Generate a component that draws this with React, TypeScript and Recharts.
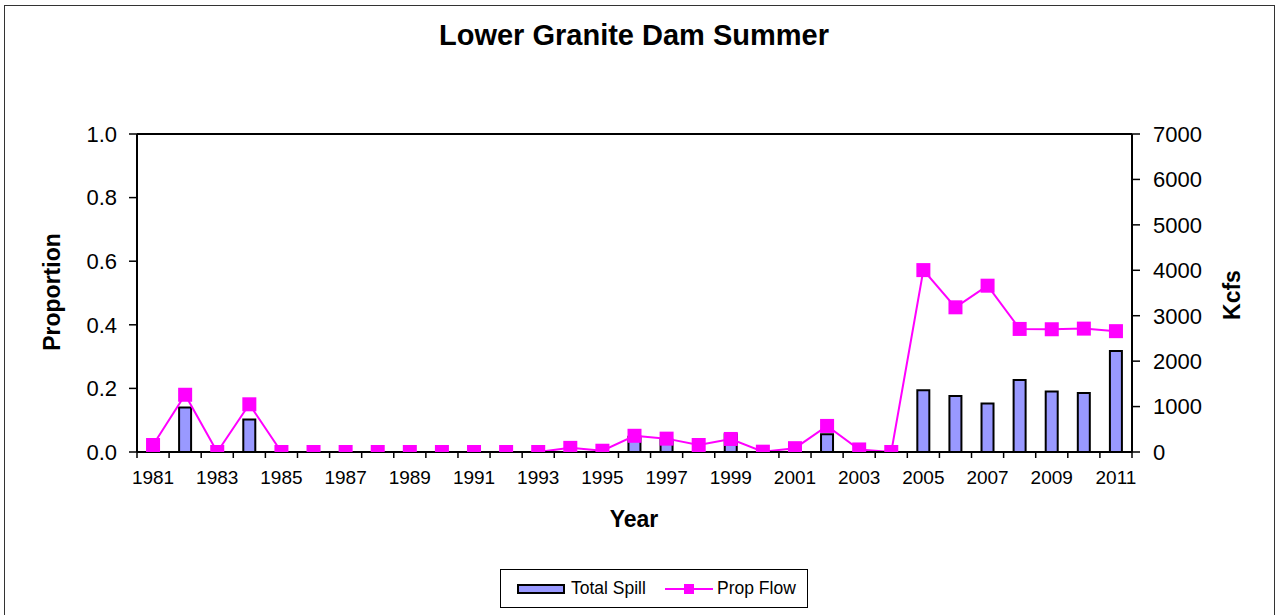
import React from 'react';
import { ComposedChart, Bar, Line, XAxis, YAxis, ReferenceLine, Legend } from 'recharts';

const years = [
  1981, 1982, 1983, 1984, 1985, 1986, 1987, 1988, 1989, 1990,
  1991, 1992, 1993, 1994, 1995, 1996, 1997, 1998, 1999, 2000,
  2001, 2002, 2003, 2004, 2005, 2006, 2007, 2008, 2009, 2010, 2011,
];

// Total Spill (Kcfs, right axis)
const totalSpill = [
  0, 980, 0, 715, 0, 0, 0, 0, 0, 0,
  0, 0, 0, 0, 0, 335, 270, 0, 390, 0,
  0, 390, 0, 0, 1360, 1230, 1065, 1585, 1330, 1300, 2225,
];

// Prop Flow (Proportion, left axis)
const propFlow = [
  0.022, 0.18, 0.0, 0.15, 0.0, 0.0, 0.0, 0.0, 0.0, 0.0,
  0.0, 0.0, 0.0, 0.013, 0.004, 0.051, 0.042, 0.022, 0.041, 0.001,
  0.012, 0.082, 0.008, 0.0, 0.572, 0.455, 0.523, 0.387, 0.386, 0.388, 0.38,
];

const leftTicks = [0, 0.2, 0.4, 0.6, 0.8, 1.0];
const rightTicks = [0, 1000, 2000, 3000, 4000, 5000, 6000, 7000];

const seriesNames = { spill: 'Total Spill', prop: 'Prop Flow' };

const data = years.map((y, i) => ({ year: y, spill: totalSpill[i], prop: propFlow[i] }));

const FONT = '"Liberation Sans", Arial, Helvetica, sans-serif';
const W = 1281;
const H = 615;
const MARGIN = { top: 134, right: 89, bottom: 133, left: 77 };
const YAXIS_W = 60;
const XAXIS_H = 30;
const PLOT_W = W - MARGIN.left - MARGIN.right - 2 * YAXIS_W;

const BAR_FILL = '#9999FF';
const LINE_COLOR = '#FF00FF';

const XTick = (props: any) => {
  const { x, y, payload, index } = props;
  const band = PLOT_W / years.length;
  const isLast = index === years.length - 1;
  return (
    <g>
      <line x1={x - band / 2} x2={x - band / 2} y1={y} y2={y + 6} stroke="#000" strokeWidth={1.5} />
      {isLast && <line x1={x + band / 2} x2={x + band / 2} y1={y} y2={y + 6} stroke="#000" strokeWidth={1.5} />}
      {index % 2 === 0 && (
        <text x={x} y={y + 32} textAnchor="middle" fontSize={19} fontFamily={FONT} fill="#000">
          {payload.value}
        </text>
      )}
    </g>
  );
};

const SquareDot = (props: any) => {
  const { cx, cy, index } = props;
  if (cx == null || cy == null) return <g key={`d${index}`} />;
  return <rect key={`d${index}`} x={cx - 7} y={cy - 7} width={14} height={14} fill={LINE_COLOR} />;
};

const LegendContent = (props: any) => {
  const payload = props.payload || [];
  const spillItem = payload.find((p: any) => p.dataKey === 'spill');
  const propItem = payload.find((p: any) => p.dataKey === 'prop');
  return (
    <svg width={308} height={39} style={{ display: 'block' }}>
      <rect x={0.5} y={0.5} width={307} height={38} fill="#fff" stroke="#000" strokeWidth={1} />
      <rect x={18} y={16} width={46} height={8} fill={BAR_FILL} stroke="#000" strokeWidth={2} />
      <text x={71} y={25} fontSize={17.5} fontFamily={FONT} fill="#000">
        {spillItem ? spillItem.value : seriesNames.spill}
      </text>
      <line x1={165} x2={213} y1={20} y2={20} stroke={LINE_COLOR} strokeWidth={2} />
      <rect x={184} y={15} width={10} height={10} fill={LINE_COLOR} />
      <text x={217} y={25} fontSize={17.5} fontFamily={FONT} fill="#000">
        {propItem ? propItem.value : seriesNames.prop}
      </text>
    </svg>
  );
};

export default function App() {
  return (
    <div style={{ position: 'fixed', left: 0, top: 0, width: W, height: H, background: '#fff', overflow: 'hidden' }}>
      <div
        style={{
          position: 'absolute',
          left: 4,
          top: 5,
          width: 1271,
          height: 640,
          border: '1px solid #333',
          boxSizing: 'border-box',
        }}
      />
      <div style={{ position: 'absolute', left: 0, top: 0 }}>
        <ComposedChart width={W} height={H} data={data} margin={MARGIN}>
          <XAxis
            dataKey="year"
            height={XAXIS_H}
            interval={0}
            tickSize={0}
            tickMargin={0}
            tickLine={false}
            axisLine={{ stroke: '#000', strokeWidth: 2 }}
            tick={<XTick />}
          />
          <YAxis
            yAxisId="left"
            orientation="left"
            width={YAXIS_W}
            domain={[0, 1]}
            ticks={leftTicks}
            interval={0}
            allowDataOverflow
            tickFormatter={(v: number) => v.toFixed(1)}
            tickSize={8}
            tickMargin={12}
            tickLine={{ stroke: '#000', strokeWidth: 1.5 }}
            axisLine={{ stroke: '#000', strokeWidth: 2 }}
            tick={{ fill: '#000', fontSize: 22, fontFamily: FONT }}
          />
          <YAxis
            yAxisId="right"
            orientation="right"
            width={YAXIS_W}
            domain={[0, 7000]}
            ticks={rightTicks}
            interval={0}
            allowDataOverflow
            tickSize={8}
            tickMargin={13}
            tickLine={{ stroke: '#000', strokeWidth: 1.5 }}
            axisLine={{ stroke: '#000', strokeWidth: 2 }}
            tick={{ fill: '#000', fontSize: 22, fontFamily: FONT }}
          />
          <ReferenceLine yAxisId="left" y={1} stroke="#000" strokeWidth={2} />
          <Legend
            layout="horizontal"
            verticalAlign="middle"
            align="center"
            content={<LegendContent />}
            wrapperStyle={{ position: 'absolute', left: 500, top: 569, width: 308, height: 39 }}
          />
          <Bar
            yAxisId="right"
            dataKey="spill"
            name={seriesNames.spill}
            barSize={12}
            fill={BAR_FILL}
            stroke="#000"
            strokeWidth={2}
            isAnimationActive={false}
          />
          <Line
            yAxisId="left"
            dataKey="prop"
            name={seriesNames.prop}
            type="linear"
            stroke={LINE_COLOR}
            strokeWidth={2}
            dot={SquareDot}
            activeDot={false}
            isAnimationActive={false}
          />
        </ComposedChart>
      </div>
      <svg
        width={W}
        height={H}
        style={{ position: 'absolute', left: 0, top: 0, pointerEvents: 'none' }}
      >
        <text x={634} y={45} textAnchor="middle" fontSize={29} fontWeight="bold" fontFamily={FONT} fill="#000">
          Lower Granite Dam Summer
        </text>
        <text x={634} y={527} textAnchor="middle" fontSize={23} fontWeight="bold" fontFamily={FONT} fill="#000">
          Year
        </text>
        <text
          x={60}
          y={292}
          textAnchor="middle"
          fontSize={23}
          fontWeight="bold"
          fontFamily={FONT}
          fill="#000"
          transform="rotate(-90 60 292)"
        >
          Proportion
        </text>
        <text
          x={1240}
          y={295}
          textAnchor="middle"
          fontSize={23}
          fontWeight="bold"
          fontFamily={FONT}
          fill="#000"
          transform="rotate(-90 1240 295)"
        >
          Kcfs
        </text>
      </svg>
    </div>
  );
}
